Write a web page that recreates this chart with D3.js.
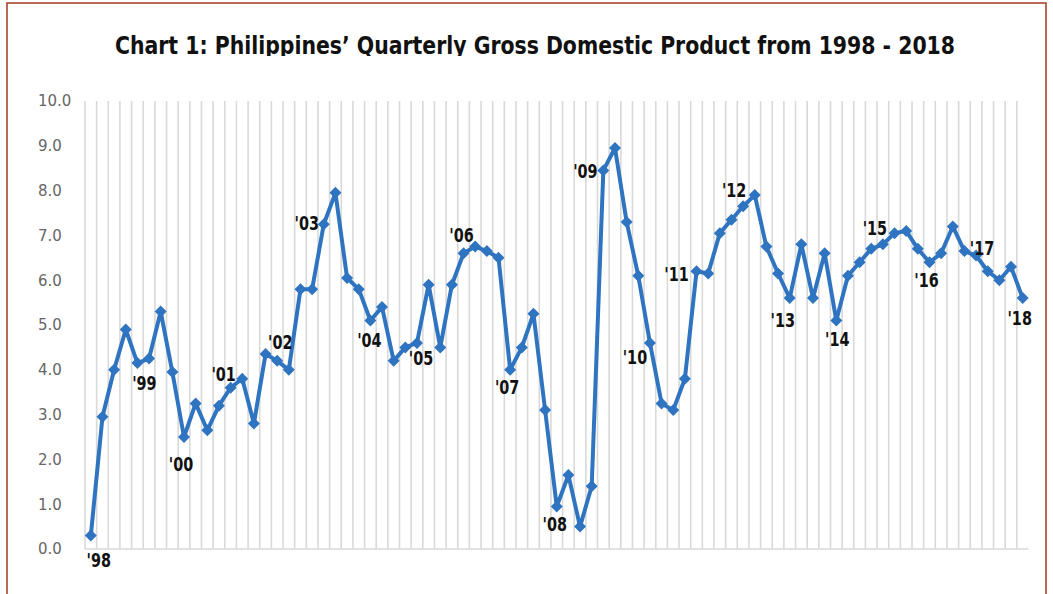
<!DOCTYPE html>
<html>
<head>
	<title>Philippines Quarterly GDP</title>
	<script src="https://d3js.org/d3.v7.min.js"></script>
	<style type="text/css">
		body { margin:0; background:#fff; }
		svg { display:block; }
	</style>
</head>
<body>
<script type="text/javascript">

	// ---- data ----
	var years = d3.range(1998, 2019);
	var quarters = [];
	years.forEach(function(yr){
		["Q1","Q2","Q3","Q4"].forEach(function(q){ quarters.push(yr + " " + q); });
	});
	quarters = quarters.slice(0, 81); // 1998 Q1 .. 2018 Q1

	var gdpGrowth = [
		0.3, 2.95, 4.0, 4.9, 4.15, 4.25, 5.3, 3.95,
		2.5, 3.25, 2.65, 3.2, 3.6, 3.8, 2.8, 4.35,
		4.2, 4.0, 5.8, 5.8, 7.25, 7.95, 6.05, 5.8,
		5.1, 5.4, 4.2, 4.5, 4.6, 5.9, 4.5, 5.9,
		6.6, 6.75, 6.65, 6.5, 4.0, 4.5, 5.25, 3.1,
		0.95, 1.65, 0.5, 1.4, 8.45, 8.95, 7.3, 6.1,
		4.6, 3.25, 3.1, 3.8, 6.2, 6.15, 7.05, 7.35,
		7.65, 7.9, 6.75, 6.15, 5.6, 6.8, 5.6, 6.6,
		5.1, 6.1, 6.4, 6.7, 6.8, 7.05, 7.1, 6.7,
		6.4, 6.6, 7.2, 6.65, 6.55, 6.2, 6.0, 6.3,
		5.6
	];

	var yTicks = [0, 1, 2, 3, 4, 5, 6, 7, 8, 9, 10];

	var yearLabels = ["'98","'99","'00","'01","'02","'03","'04","'05","'06","'07","'08",
		"'09","'10","'11","'12","'13","'14","'15","'16","'17","'18"];
	var yearLabelQuarter = [0, 4, 8, 12, 16, 20, 24, 28, 32, 36, 40, 44, 48, 52, 56, 60, 64, 68, 72, 76, 80];

	// label placement relative to its point (layout, not data)
	var labelOffset = [
		[8,24],[7,20],[-3,27],[-7,-14],[3,-19],[-17,-1],[-1,19],[4,15],[-2,-19],[-3,17],[-2,17],
		[-18,0],[-15,14],[-20,3],[-9,-16],[-7,22],[1,18],[-8,-17],[-3,18],[6,-8],[-3,20]
	];

	// ---- layout ----
	var W = 1053, H = 594;
	var plotLeft = 85, plotRight = 1028.5, plotTop = 101, plotBottom = 549;
	var blue = "#2f74c0";
	var narrow = "'Liberation Sans Narrow', 'DejaVu Sans Condensed', sans-serif";

	var svg = d3.select("body").append("svg")
		.attr("width", W)
		.attr("height", H);

	// frame
	svg.append("rect")
		.attr("x", 7).attr("y", 3)
		.attr("width", 1039).attr("height", 600)
		.attr("fill", "none")
		.attr("stroke", "#a9472f")
		.attr("stroke-width", 1.6);

	// title (bottom of glyphs cut off as in the original)
	svg.append("clipPath").attr("id", "titleClip")
		.append("rect").attr("x", 0).attr("y", 0).attr("width", W).attr("height", 56);

	svg.append("text")
		.attr("clip-path", "url(#titleClip)")
		.attr("x", 115).attr("y", 54)
		.attr("textLength", 840)
		.attr("lengthAdjust", "spacingAndGlyphs")
		.attr("font-family", narrow)
		.attr("font-weight", "bold")
		.attr("font-size", "25px")
		.attr("fill", "#111")
		.text("Chart 1: Philippines\u2019 Quarterly Gross Domestic Product from 1998 - 2018");

	// scales
	var x = d3.scaleBand()
		.domain(d3.range(quarters.length))
		.range([plotLeft, plotRight])
		.paddingInner(0).paddingOuter(0);

	var y = d3.scaleLinear()
		.domain([0, 10])
		.range([plotBottom, plotTop]);

	// vertical grid lines at category boundaries
	svg.append("g").selectAll("line")
		.data(d3.range(quarters.length))
		.enter().append("line")
			.attr("x1", function(i){ return x(i); })
			.attr("x2", function(i){ return x(i); })
			.attr("y1", plotTop)
			.attr("y2", plotBottom)
			.attr("stroke", "#d9d9d9")
			.attr("stroke-width", 1.6);

	// baseline
	svg.append("line")
		.attr("x1", plotLeft).attr("x2", plotRight)
		.attr("y1", plotBottom).attr("y2", plotBottom)
		.attr("stroke", "#d9d9d9")
		.attr("stroke-width", 1.6);

	// y axis labels
	var yAxis = d3.axisLeft(y)
		.tickValues(yTicks)
		.tickFormat(d3.format(".1f"))
		.tickSize(0);

	var yg = svg.append("g")
		.attr("transform", "translate(38,0)")
		.call(yAxis);
	yg.select(".domain").remove();
	yg.selectAll("text")
		.attr("x", 0)
		.attr("text-anchor", "start")
		.attr("font-family", "'DejaVu Sans', sans-serif")
		.attr("font-size", "15px")
		.attr("fill", "#666");

	// line
	var cx = function(d, i){ return x(i) + x.bandwidth() / 2; };

	svg.append("path")
		.datum(gdpGrowth)
		.attr("fill", "none")
		.attr("stroke", blue)
		.attr("stroke-width", 4)
		.attr("stroke-linejoin", "round")
		.attr("d", d3.line()
			.x(cx)
			.y(function(d){ return y(d); }));

	// diamond markers
	svg.append("g").selectAll("path")
		.data(gdpGrowth)
		.enter().append("path")
			.attr("d", d3.symbol().type(d3.symbolSquare).size(72))
			.attr("transform", function(d, i){
				return "translate(" + cx(d, i) + "," + y(d) + ") rotate(45)";
			})
			.attr("fill", blue);

	// year labels (narrow, slightly bold)
	svg.append("g").selectAll("text")
		.data(yearLabels)
		.enter().append("text")
			.attr("transform", function(t, k){
				var i = yearLabelQuarter[k];
				var px = cx(gdpGrowth[i], i) + labelOffset[k][0];
				var py = y(gdpGrowth[i]) + labelOffset[k][1];
				return "translate(" + px + "," + py + ") scale(0.8,1)";
			})
			.attr("dy", "0.36em")
			.attr("text-anchor", "middle")
			.attr("font-family", narrow)
			.attr("font-weight", "600")
			.attr("font-size", "20px")
			.attr("fill", "#111")
			.text(function(t){ return t; });

</script>
</body>
</html>
